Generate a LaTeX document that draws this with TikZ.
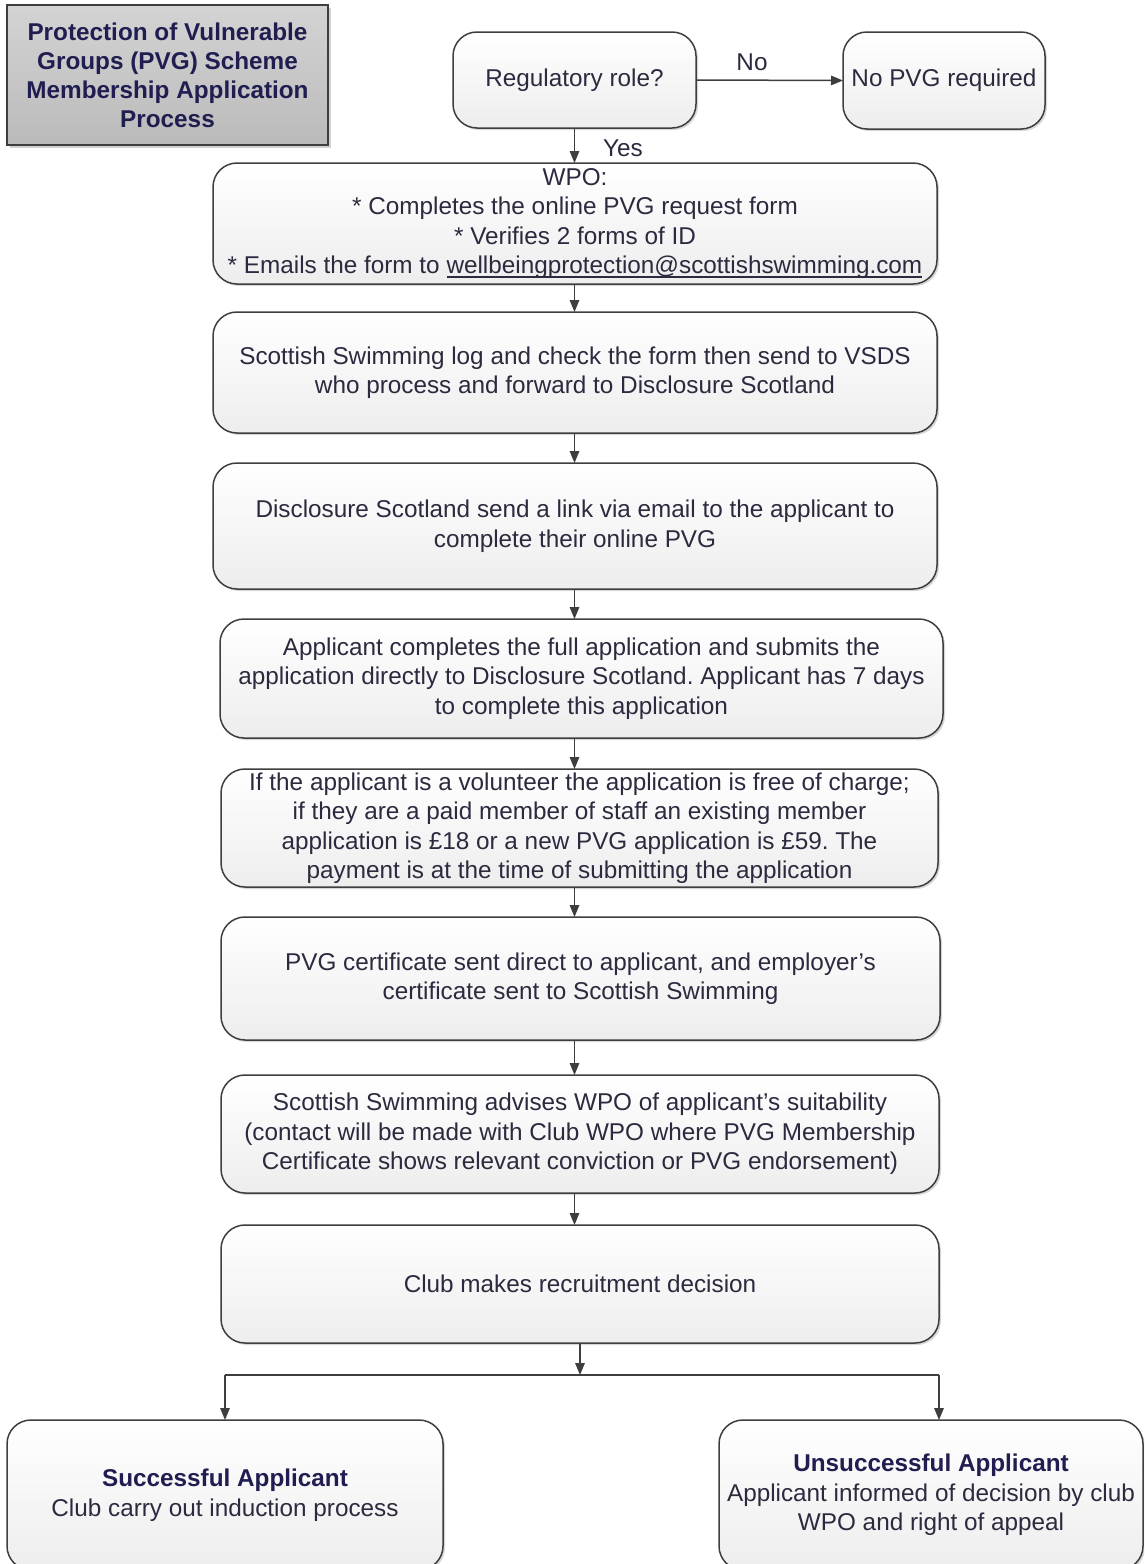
\documentclass[tikz,border=0pt]{standalone}
\usepackage{fontspec}
\setmainfont{Liberation Sans}
\usetikzlibrary{arrows.meta,shadows}
\definecolor{txt}{RGB}{44,42,62}
\definecolor{ttl}{RGB}{32,30,80}
\definecolor{ln}{RGB}{62,62,62}
\frenchspacing
\newcommand\emailul[1]{\setbox0\hbox{#1}\rlap{\color{txt}\vrule height -2.6pt depth 4.1pt width \wd0}\box0}
\tikzset{
  base/.style={font=\fontsize{24.3}{29.5}\selectfont, text=txt},
  pbox/.style={base, draw=ln, line width=1.5pt, rounded corners=24pt,
    top color=white, bottom color=black!7,
    drop shadow={shadow xshift=2pt, shadow yshift=-2pt, opacity=0.3},
    inner sep=0pt, outer sep=0pt, align=center},
  titlebox/.style={draw=ln, line width=1.5pt, top color=black!17, bottom color=black!27,
    drop shadow={shadow xshift=2.5pt, shadow yshift=-2.5pt, opacity=0.35},
    inner sep=0pt, outer sep=0pt, align=center, text=ttl,
    font=\fontsize{24.3}{29}\selectfont\bfseries},
  conn/.style={draw=ln, line width=1.5pt},
  arr/.style={conn, -{Triangle[length=12pt,width=9.5pt]}},
}
\begin{document}
\begin{tikzpicture}[x=1pt,y=-1pt]
\path[use as bounding box] (0,0) rectangle (1144,1564);
\clip (0,0) rectangle (1144,1564);
\fill[white] (0,0) rectangle (1144,1564);

\node[titlebox, minimum width=321pt, minimum height=140pt] (title) at (167.5,75)
  {Protection of Vulnerable\\Groups (PVG) Scheme\\Membership Application\\Process};

\node[pbox, minimum width=243pt, minimum height=96pt] (reg) at (574.5,80) {Regulatory role?};
\node[pbox, minimum width=202pt, minimum height=97pt] (nopvg) at (944,80.5) {No PVG required};

\node[pbox, minimum width=724pt, minimum height=121pt] (wpo) at (575,223.5)
  {WPO:\\* Completes the online PVG request form\\* Verifies 2 forms of ID\\* Emails the form to \emailul{wellbeingprotection@scottishswimming.com}};

\node[pbox, minimum width=724pt, minimum height=121pt] (b2) at (575,372.5)
  {Scottish Swimming log and check the form then send to VSDS\\who process and forward to Disclosure Scotland};

\node[pbox, minimum width=724pt, minimum height=126pt] (b3) at (575,526)
  {Disclosure Scotland send a link via email to the applicant to\\complete their online PVG};

\node[pbox, minimum width=723pt, minimum height=119pt] (b4) at (581.5,678.5)
  {Applicant completes the full application and submits the\\application directly to Disclosure Scotland. Applicant has 7 days\\to complete this application};

\node[pbox, minimum width=717pt, minimum height=118pt] (b5) at (579.5,828)
  {If the applicant is a volunteer the application is free of charge;\\if they are a paid member of staff an existing member\\application is £18 or a new PVG application is £59. The\\payment is at the time of submitting the application};

\node[pbox, minimum width=719pt, minimum height=123pt] (b6) at (580.5,978.5)
  {PVG certificate sent direct to applicant, and employer's\\certificate sent to Scottish Swimming};

\node[pbox, minimum width=718pt, minimum height=118pt] (b7) at (580,1134)
  {Scottish Swimming advises WPO of applicant's suitability\\(contact will be made with Club WPO where PVG Membership\\Certificate shows relevant conviction or PVG endorsement)};

\node[pbox, minimum width=718pt, minimum height=118pt] (b8) at (580,1284)
  {Club makes recruitment decision};

\node[pbox, minimum width=436pt, minimum height=150pt] (succ) at (225,1495)
  {{\bfseries\color{ttl}Successful Applicant}\\Club carry out induction process};

\node[pbox, minimum width=424pt, minimum height=150pt] (unsucc) at (931,1495)
  {{\bfseries\color{ttl}Unsuccessful Applicant}\\Applicant informed of decision by club\\WPO and right of appeal};

\coordinate (br) at (580,1375);

% connectors
\draw[arr] (reg.east) -- (nopvg.west);
\node[base] (nolab) at (752,62) {No};
\draw[arr] (reg.south) -- (reg.south |- wpo.north);
\node[base] (yeslab) at (623,148) {Yes};
\draw[arr] (wpo.south -| reg.south) -- (b2.north -| reg.south);
\draw[arr] (b2.south -| reg.south) -- (b3.north -| reg.south);
\draw[arr] (b3.south -| reg.south) -- (b4.north -| reg.south);
\draw[arr] (b4.south -| reg.south) -- (b5.north -| reg.south);
\draw[arr] (b5.south -| reg.south) -- (b6.north -| reg.south);
\draw[arr] (b6.south -| reg.south) -- (b7.north -| reg.south);
\draw[arr] (b7.south -| reg.south) -- (b8.north -| reg.south);
\draw[arr] (b8.south) -- (br);
\draw[conn] (succ.north |- br) -- (b8.south east |- br);
\draw[arr] (succ.north |- br) -- (succ.north);
\draw[arr] (b8.south east |- br) -- (b8.south east |- unsucc.north);
\end{tikzpicture}
\end{document}
